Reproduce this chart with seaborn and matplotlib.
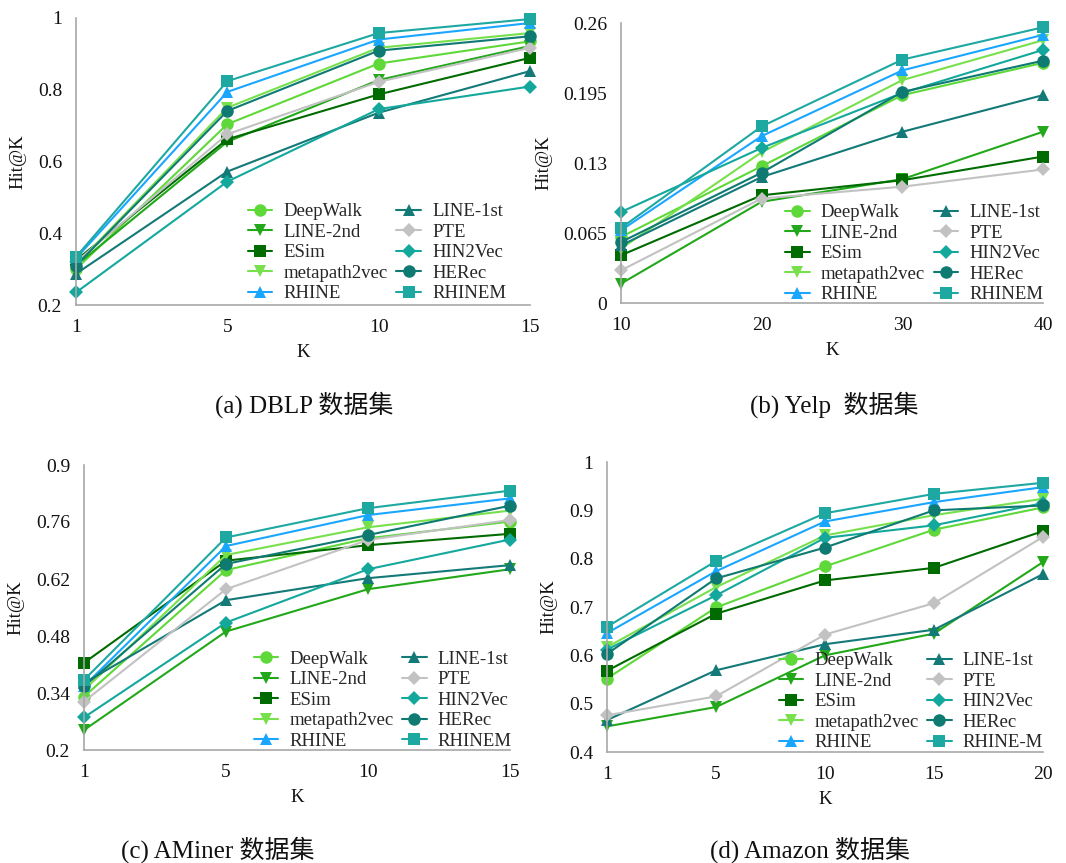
import numpy as np
import pandas as pd
import matplotlib
matplotlib.use("Agg")
import matplotlib.pyplot as plt
import seaborn as sns
from matplotlib.lines import Line2D

sns.set_theme(style="white")
plt.rcParams['font.family'] = ['Liberation Serif', 'Noto Sans CJK SC', 'DejaVu Sans']

methods = ["DeepWalk", "LINE-2nd", "ESim", "metapath2vec", "RHINE",
           "LINE-1st", "PTE", "HIN2Vec", "HERec", "RHINEM"]

# Hit@K per dataset, one list per method (same order as `methods`)
k_dblp = ["1", "5", "10", "15"]
dblp = {
    "DeepWalk":     [0.300, 0.704, 0.873, 0.935],
    "LINE-2nd":     [0.310, 0.655, 0.827, 0.922],
    "ESim":         [0.325, 0.662, 0.787, 0.889],
    "metapath2vec": [0.312, 0.750, 0.917, 0.958],
    "RHINE":        [0.330, 0.794, 0.940, 0.986],
    "LINE-1st":     [0.287, 0.572, 0.736, 0.852],
    "PTE":          [0.320, 0.676, 0.822, 0.917],
    "HIN2Vec":      [0.235, 0.544, 0.746, 0.809],
    "HERec":        [0.310, 0.741, 0.909, 0.949],
    "RHINEM":       [0.334, 0.824, 0.958, 0.997],
}

k_yelp = ["10", "20", "30", "40"]
yelp = {
    "DeepWalk":     [0.0613, 0.127, 0.193, 0.223],
    "LINE-2nd":     [0.0180, 0.094, 0.115, 0.159],
    "ESim":         [0.0443, 0.100, 0.114, 0.136],
    "metapath2vec": [0.0505, 0.140, 0.207, 0.244],
    "RHINE":        [0.0675, 0.155, 0.216, 0.249],
    "LINE-1st":     [0.0535, 0.117, 0.159, 0.193],
    "PTE":          [0.0303, 0.097, 0.108, 0.124],
    "HIN2Vec":      [0.0845, 0.144, 0.195, 0.235],
    "HERec":        [0.0566, 0.121, 0.196, 0.225],
    "RHINEM":       [0.0696, 0.164, 0.226, 0.256],
}

k_aminer = ["1", "5", "10", "15"]
aminer = {
    "DeepWalk":     [0.331, 0.642, 0.720, 0.761],
    "LINE-2nd":     [0.249, 0.491, 0.595, 0.644],
    "ESim":         [0.414, 0.665, 0.703, 0.731],
    "metapath2vec": [0.347, 0.679, 0.747, 0.788],
    "RHINE":        [0.357, 0.701, 0.777, 0.818],
    "LINE-1st":     [0.364, 0.568, 0.622, 0.654],
    "PTE":          [0.319, 0.595, 0.716, 0.765],
    "HIN2Vec":      [0.280, 0.513, 0.644, 0.717],
    "HERec":        [0.356, 0.657, 0.728, 0.800],
    "RHINEM":       [0.372, 0.722, 0.794, 0.837],
}

k_amazon = ["1", "5", "10", "15", "20"]
amazon = {
    "DeepWalk":     [0.552, 0.699, 0.784, 0.860, 0.906],
    "LINE-2nd":     [0.453, 0.493, 0.600, 0.645, 0.793],
    "ESim":         [0.568, 0.686, 0.755, 0.781, 0.857],
    "metapath2vec": [0.617, 0.741, 0.848, 0.890, 0.924],
    "RHINE":        [0.646, 0.774, 0.877, 0.917, 0.948],
    "LINE-1st":     [0.466, 0.569, 0.623, 0.653, 0.768],
    "PTE":          [0.476, 0.515, 0.643, 0.708, 0.845],
    "HIN2Vec":      [0.612, 0.724, 0.843, 0.869, 0.915],
    "HERec":        [0.603, 0.759, 0.823, 0.900, 0.910],
    "RHINEM":       [0.659, 0.795, 0.894, 0.934, 0.957],
}

colors = {
    "DeepWalk": "#5fd83a", "LINE-2nd": "#22a81a", "ESim": "#006b00",
    "metapath2vec": "#78e04c", "RHINE": "#1aa6ff", "LINE-1st": "#137a78",
    "PTE": "#c2c2c2", "HIN2Vec": "#14a89c", "HERec": "#0e7a72", "RHINEM": "#1ea8a2",
}
markers = {
    "DeepWalk": "o", "LINE-2nd": "v", "ESim": "s", "metapath2vec": "v",
    "RHINE": "^", "LINE-1st": "^", "PTE": "D", "HIN2Vec": "D",
    "HERec": "o", "RHINEM": "s",
}
msizes = {"o": 9, "v": 9, "s": 8.5, "^": 9, "D": 7.5}

W, H = 1066, 863
fig = plt.figure(figsize=(W / 100, H / 100), dpi=100)


def px_axes(left, right, top, bottom):
    return fig.add_axes([left / W, (H - bottom) / H, (right - left) / W, (bottom - top) / H])


panels = [
    dict(box=(76, 530, 18, 305), ks=k_dblp, data=dblp, ylim=(0.2, 1.0),
         yticks=[0.2, 0.4, 0.6, 0.8, 1.0], ylabels=["0.2", "0.4", "0.6", "0.8", "1"],
         leg=(0.35, 0.40), last="RHINEM", caption="(a) DBLP 数据集", cap=(304, 405)),
    dict(box=(621, 1043, 23, 303), ks=k_yelp, data=yelp, ylim=(0.0, 0.26),
         yticks=[0, 0.065, 0.13, 0.195, 0.26], ylabels=["0", "0.065", "0.13", "0.195", "0.26"],
         leg=(0.358, 0.40), last="RHINEM", caption="(b) Yelp  数据集", cap=(834, 405)),
    dict(box=(84, 510, 465, 750), ks=k_aminer, data=aminer, ylim=(0.2, 0.9),
         yticks=[0.2, 0.34, 0.48, 0.62, 0.76, 0.9],
         ylabels=["0.2", "0.34", "0.48", "0.62", "0.76", "0.9"],
         leg=(0.368, 0.395), last="RHINEM", caption="(c) AMiner 数据集", cap=(218, 850)),
    dict(box=(607, 1043, 462, 752), ks=k_amazon, data=amazon, ylim=(0.4, 1.0),
         yticks=[0.4, 0.5, 0.6, 0.7, 0.8, 0.9, 1.0],
         ylabels=["0.4", "0.5", "0.6", "0.7", "0.8", "0.9", "1"],
         leg=(0.364, 0.39), last="RHINE-M", caption="(d) Amazon 数据集", cap=(810, 850)),
]

for p in panels:
    ax = px_axes(*p["box"])
    ks = p["ks"]
    df = pd.DataFrame([
        {"pos": i, "hit": v, "method": m}
        for m in methods for i, v in enumerate(p["data"][m])
    ])
    for m in methods:
        sub = df[df["method"] == m]
        mk = markers[m]
        sns.lineplot(data=sub, x="pos", y="hit", ax=ax, color=colors[m], lw=1.5,
                     marker=mk, markersize=msizes[mk], markeredgewidth=0,
                     legend=False, clip_on=False)
    ax.set_xlim(0, len(ks) - 1)
    ax.set_ylim(*p["ylim"])
    ax.set_xticks(range(len(ks)))
    ax.set_xticklabels(ks)
    ax.set_yticks(p["yticks"])
    ax.set_yticklabels(p["ylabels"])
    ax.tick_params(axis="both", length=0, labelsize=14, colors="#111111", pad=10)
    ax.set_xlabel("K", fontsize=13.5, labelpad=6, color="#111111")
    ax.set_ylabel("Hit@K", fontsize=13.5, labelpad=8, color="#111111")
    for s in ["top", "right"]:
        ax.spines[s].set_visible(False)
    for s in ["left", "bottom"]:
        ax.spines[s].set_color("#a8a8a8")
        ax.spines[s].set_linewidth(1.2)

    handles = [Line2D([], [], color=colors[m], lw=1.5, marker=markers[m],
                      markersize=msizes[markers[m]], markeredgewidth=0) for m in methods]
    labels = methods[:-1] + [p["last"]]
    ax.legend(handles, labels, ncol=2, loc="upper left", bbox_to_anchor=p["leg"],
              frameon=False, fontsize=13.5, labelspacing=0.18, handlelength=1.3,
              handletextpad=0.6, columnspacing=0.45, borderpad=0.2)

    fig.text(p["cap"][0] / W, 1 - p["cap"][1] / H, p["caption"], ha="center", va="center",
             fontsize=18, color="#111111")

fig.savefig("out.png", dpi=100)
